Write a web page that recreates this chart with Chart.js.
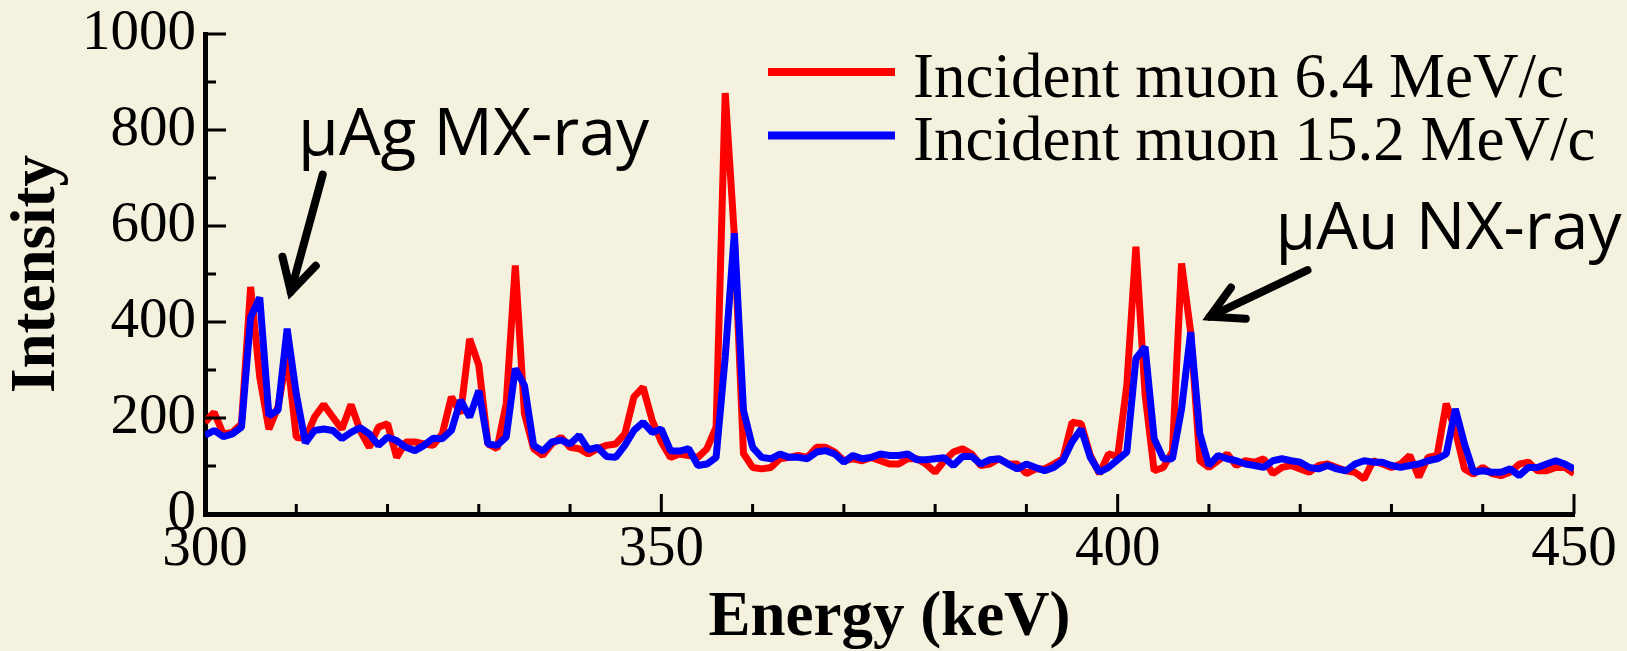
<!DOCTYPE html>
<html>
<head>
<meta charset="utf-8">
<script src="https://cdn.jsdelivr.net/npm/chart.js@4.4.1/dist/chart.umd.min.js"></script>
<style>
  html, body { margin: 0; padding: 0; background: #f4f1de; }
  canvas { display: block; }
</style>
</head>
<body>
<canvas id="chart" width="1627" height="651"></canvas>
<script>
// energy bins (keV)
const energies = [
  300, 301, 302, 303, 304, 305, 306, 307, 308, 309,
  310, 311, 312, 313, 314, 315, 316, 317, 318, 319,
  320, 321, 322, 323, 324, 325, 326, 327, 328, 329,
  330, 331, 332, 333, 334, 335, 336, 337, 338, 339,
  340, 341, 342, 343, 344, 345, 346, 347, 348, 349,
  350, 351, 352, 353, 354, 355, 356, 357, 358, 359,
  360, 361, 362, 363, 364, 365, 366, 367, 368, 369,
  370, 371, 372, 373, 374, 375, 376, 377, 378, 379,
  380, 381, 382, 383, 384, 385, 386, 387, 388, 389,
  390, 391, 392, 393, 394, 395, 396, 397, 398, 399,
  400, 401, 402, 403, 404, 405, 406, 407, 408, 409,
  410, 411, 412, 413, 414, 415, 416, 417, 418, 419,
  420, 421, 422, 423, 424, 425, 426, 427, 428, 429,
  430, 431, 432, 433, 434, 435, 436, 437, 438, 439,
  440, 441, 442, 443, 444, 445, 446, 447, 448, 449,
  450
];

// Incident muon 6.4 MeV/c
const muon64 = [
  191, 212, 167, 170, 188, 473, 285, 177, 223, 330,
  160, 157, 202, 228, 202, 177, 228, 174, 139, 181,
  188, 118, 150, 150, 146, 143, 167, 244, 209, 365,
  310, 146, 136, 230, 518, 209, 136, 122, 146, 160,
  139, 136, 125, 136, 143, 146, 167, 244, 264, 195,
  150, 118, 125, 122, 118, 136, 181, 877, 580, 126,
  97, 94, 97, 115, 118, 122, 118, 139, 139, 129,
  111, 115, 111, 118, 111, 104, 104, 115, 115, 104,
  87, 111, 129, 136, 125, 101, 104, 115, 104, 104,
  84, 94, 94, 104, 115, 191, 188, 122, 84, 125,
  120, 268, 557, 250, 90, 97, 130, 522, 379, 111,
  97, 111, 125, 101, 111, 108, 115, 84, 97, 101,
  94, 87, 101, 104, 97, 90, 87, 73, 111, 104,
  97, 104, 122, 77, 118, 122, 230, 174, 94, 83,
  97, 84, 80, 87, 104, 108, 90, 90, 97, 97,
  84
];

// Incident muon 15.2 MeV/c
const muon152 = [
  164, 174, 161, 167, 181, 410, 451, 205, 216, 386,
  250, 148, 174, 177, 174, 157, 170, 180, 167, 143,
  160, 153, 139, 132, 143, 158, 157, 174, 237, 202,
  257, 146, 143, 160, 303, 268, 143, 131, 150, 154,
  146, 164, 134, 139, 120, 118, 143, 174, 191, 170,
  177, 132, 131, 136, 101, 104, 118, 327, 585, 216,
  139, 118, 115, 125, 118, 118, 115, 129, 132, 125,
  108, 122, 115, 118, 125, 122, 122, 125, 113, 113,
  115, 117, 101, 120, 120, 104, 113, 115, 104, 94,
  104, 97, 90, 97, 111, 150, 177, 118, 87, 97,
  113, 129, 324, 348, 157, 115, 115, 219, 379, 167,
  101, 122, 115, 111, 104, 101, 97, 111, 115, 111,
  108, 97, 94, 101, 94, 90, 104, 111, 108, 108,
  101, 97, 101, 104, 111, 115, 125, 219, 146, 87,
  90, 87, 87, 94, 80, 97, 97, 104, 111, 104,
  94
];

const seriesNames = ["Incident muon 6.4 MeV/c", "Incident muon 15.2 MeV/c"];
const seriesColors = ["#ff0000", "#0000ff"];

const xTicks = [300, 350, 400, 450];
const xMinor = [310, 320, 330, 340, 360, 370, 380, 390, 410, 420, 430, 440];
const yTicks = [0, 200, 400, 600, 800, 1000];
const yMinor = [100, 300, 500, 700, 900];

// annotation text and arrows, in data units (keV, intensity)
const notes = [
  { text: "\u03bcAg MX-ray", e: 310.2, v: 747 },
  { text: "\u03bcAu NX-ray", e: 417.3, v: 552 }
];
const arrows = [
  { from: [312.9, 707], to: [309.4, 463] },
  { from: [420.8, 508], to: [410.1, 411] }
];

const BG = "#f4f1de";
const serif = "'Liberation Serif', 'Times New Roman', serif";

const background = {
  id: "background",
  beforeDraw(chart) {
    const ctx = chart.ctx;
    ctx.save();
    ctx.fillStyle = BG;
    ctx.fillRect(0, 0, chart.width, chart.height);
    ctx.restore();
  }
};

// ticks point into the plot, so draw them here
const innerTicks = {
  id: "innerTicks",
  afterDraw(chart) {
    const { ctx, chartArea, scales: { x, y } } = chart;
    ctx.save();
    ctx.strokeStyle = "#000";
    ctx.lineWidth = 3;
    ctx.beginPath();
    const tick = (px, py, dx, dy) => { ctx.moveTo(px, py); ctx.lineTo(px + dx, py + dy); };
    yTicks.forEach(v => tick(chartArea.left, y.getPixelForValue(v), 21, 0));
    yMinor.forEach(v => tick(chartArea.left, y.getPixelForValue(v), 11, 0));
    xTicks.forEach(v => tick(x.getPixelForValue(v), chartArea.bottom, 0, -20));
    xMinor.forEach(v => tick(x.getPixelForValue(v), chartArea.bottom, 0, -10));
    ctx.stroke();
    ctx.restore();
  }
};

const legendBox = {
  id: "legendBox",
  afterDraw(chart) {
    const ctx = chart.ctx;
    ctx.save();
    chart.data.datasets.forEach((ds, i) => {
      const yy = 72 + i * 63.6;
      ctx.strokeStyle = ds.borderColor;
      ctx.lineWidth = 8;
      ctx.beginPath();
      ctx.moveTo(768, yy);
      ctx.lineTo(895, yy);
      ctx.stroke();
      ctx.fillStyle = "#000";
      ctx.font = "63px " + serif;
      ctx.textBaseline = "alphabetic";
      ctx.fillText(ds.label, 913, yy + 24.5);
    });
    ctx.restore();
  }
};

const callouts = {
  id: "callouts",
  afterDraw(chart) {
    const { ctx, scales: { x, y } } = chart;
    ctx.save();
    ctx.fillStyle = "#000";
    ctx.font = "66px 'Open Sans', sans-serif";
    ctx.textBaseline = "alphabetic";
    notes.forEach(n => ctx.fillText(n.text, x.getPixelForValue(n.e), y.getPixelForValue(n.v)));

    ctx.strokeStyle = "#000";
    ctx.lineWidth = 8;
    ctx.lineCap = "round";
    ctx.lineJoin = "miter";
    arrows.forEach(a => {
      const x0 = x.getPixelForValue(a.from[0]), y0 = y.getPixelForValue(a.from[1]);
      const x1 = x.getPixelForValue(a.to[0]), y1 = y.getPixelForValue(a.to[1]);
      const ang = Math.atan2(y0 - y1, x0 - x1);
      const len = 36, spread = 0.5;
      ctx.beginPath();
      ctx.moveTo(x0, y0);
      ctx.lineTo(x1, y1);
      ctx.stroke();
      ctx.beginPath();
      ctx.moveTo(x1 + len * Math.cos(ang - spread), y1 + len * Math.sin(ang - spread));
      ctx.lineTo(x1, y1);
      ctx.lineTo(x1 + len * Math.cos(ang + spread), y1 + len * Math.sin(ang + spread));
      ctx.stroke();
    });
    ctx.restore();
  }
};

const toPoints = vals => energies.map((e, i) => ({ x: e, y: vals[i] }));

new Chart(document.getElementById("chart"), {
  type: "line",
  data: {
    datasets: [
      {
        label: seriesNames[0],
        data: toPoints(muon64),
        borderColor: seriesColors[0],
        borderWidth: 7,
        borderJoinStyle: "bevel",
        pointRadius: 0,
        tension: 0,
        order: 2
      },
      {
        label: seriesNames[1],
        data: toPoints(muon152),
        borderColor: seriesColors[1],
        borderWidth: 7,
        borderJoinStyle: "bevel",
        pointRadius: 0,
        tension: 0,
        order: 1
      }
    ]
  },
  options: {
    responsive: false,
    animation: false,
    layout: { padding: { top: 34, right: 53, left: 0, bottom: 0 } },
    plugins: {
      legend: { display: false },
      tooltip: { enabled: false }
    },
    scales: {
      x: {
        type: "linear",
        min: 300,
        max: 450,
        afterBuildTicks: s => { s.ticks = xTicks.map(v => ({ value: v })); },
        afterFit: s => { s.height = 137; s.paddingLeft = 0; s.paddingRight = 0; },
        grid: { display: false, drawTicks: false },
        border: { display: true, color: "#000", width: 5 },
        ticks: {
          padding: 2,
          color: "#000",
          maxRotation: 0,
          callback: v => String(v),
          font: { family: serif, size: 57 }
        },
        title: {
          display: true,
          text: "Energy (keV)",
          color: "#000",
          padding: 0,
          font: { family: serif, size: 63, weight: "bold", lineHeight: 1.02 }
        }
      },
      y: {
        min: 0,
        max: 1000,
        afterBuildTicks: s => { s.ticks = yTicks.map(v => ({ value: v })); },
        afterFit: s => { s.width = 205; s.paddingTop = 0; s.paddingBottom = 0; },
        grid: { display: false, drawTicks: false },
        border: { display: true, color: "#000", width: 5 },
        ticks: {
          padding: 9,
          color: "#000",
          callback: v => String(v),
          font: { family: serif, size: 57 }
        },
        title: {
          display: true,
          text: "Intensity",
          color: "#000",
          padding: 0,
          font: { family: serif, size: 63, weight: "bold" }
        }
      }
    }
  },
  plugins: [background, innerTicks, legendBox, callouts]
});
</script>
</body>
</html>
